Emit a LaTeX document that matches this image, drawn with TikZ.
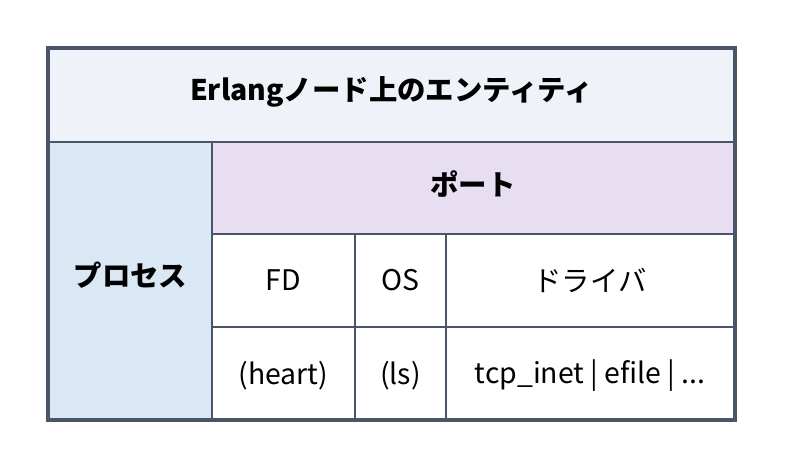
\documentclass[tikz,border=0pt]{standalone}
\usepackage{fontspec}
\setmainfont{Noto Sans CJK JP}
\usetikzlibrary{fit}
\definecolor{edgec}{HTML}{4A5568}
\definecolor{hdrbg}{HTML}{EFF3F9}
\definecolor{procbg}{HTML}{DAE7F4}
\definecolor{portbg}{HTML}{E7DEF1}
\tikzset{
  cell/.style={draw=edgec, line width=2bp, rectangle, inner sep=0pt},
  label/.style={inner sep=0pt, font=\fontsize{28.5}{34}\selectfont, text=black, align=center},
  boldlabel/.style={label, font=\fontsize{28.5}{34}\selectfont\bfseries},
  framebox/.style={draw=edgec, line width=3.5bp, inner sep=0pt, rectangle}
}
\begin{document}
\begin{tikzpicture}[x=1bp,y=-1bp]
\useasboundingbox (0,0) rectangle (785,469);
\node[cell, fill=hdrbg, minimum width=685bp, minimum height=93bp] (hdr) at (391.5,95.5) {};
\node[cell, fill=procbg, minimum width=163bp, minimum height=277bp] (proc) at (130.5,280.5) {};
\node[cell, fill=portbg, minimum width=522bp, minimum height=92bp] (port) at (473,188) {};
\node[cell, fill=white, minimum width=143bp, minimum height=93bp] (fd) at (283.5,280.5) {};
\node[cell, fill=white, minimum width=91bp, minimum height=93bp] (os) at (400.5,280.5) {};
\node[cell, fill=white, minimum width=288bp, minimum height=93bp] (drv) at (590,280.5) {};
\node[cell, fill=white, minimum width=143bp, minimum height=92bp] (heart) at (283.5,373) {};
\node[cell, fill=white, minimum width=91bp, minimum height=92bp] (ls) at (400.5,373) {};
\node[cell, fill=white, minimum width=288bp, minimum height=92bp] (tcp) at (590,373) {};
\node[framebox, fit=(hdr)(proc)(tcp)] (frame) {};
\node[boldlabel] (hdrtext) at ([yshift=4bp]hdr.center) {Erlangノード上のエンティティ};
\node[boldlabel] (proctext) at ([yshift=5bp]proc.center) {プロセス};
\node[boldlabel] (porttext) at ([yshift=4bp]port.center) {ポート};
\node[label] (fdtext) at (fd.center) {FD};
\node[label] (ostext) at (os.center) {OS};
\node[label] (drvtext) at (drv.center) {ドライバ};
\node[label] (hearttext) at ([yshift=-3bp]heart.center) {(heart)};
\node[label] (lstext) at ([yshift=-3bp]ls.center) {(ls)};
\node[label] (tcptext) at ([yshift=-3bp]tcp.center) {tcp\_inet | efile | ...};
\end{tikzpicture}
\end{document}
